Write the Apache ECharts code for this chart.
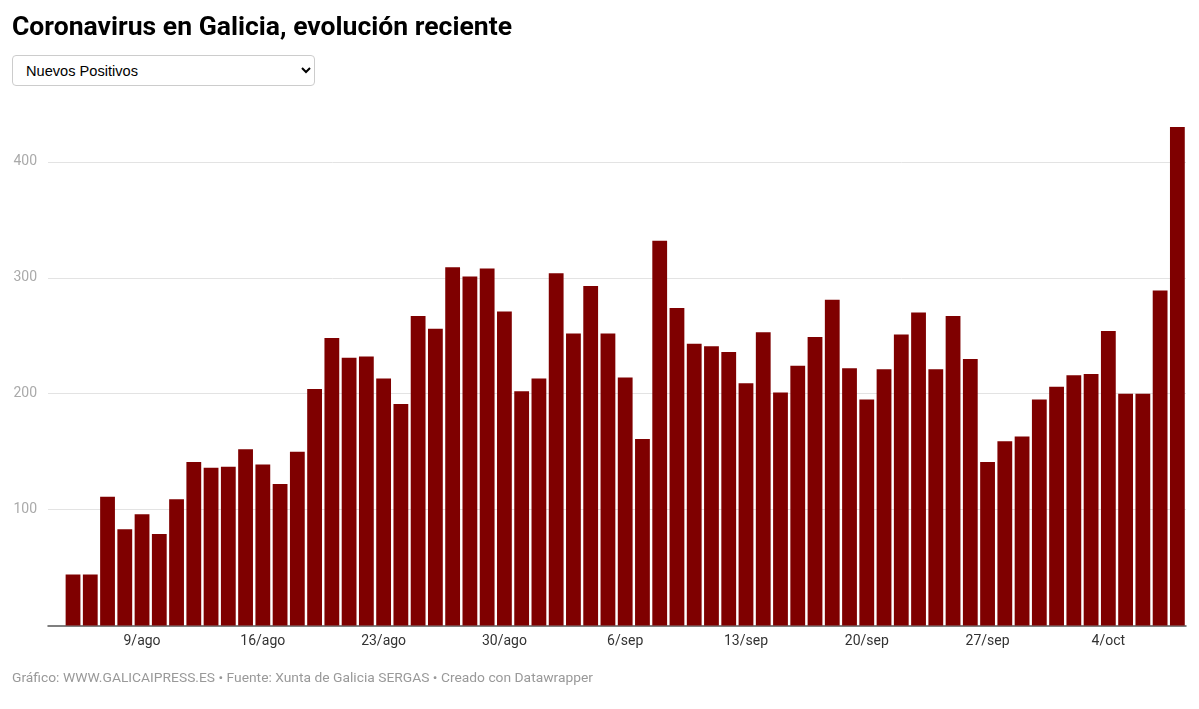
<!DOCTYPE html>
<html>
<head>
<meta charset="utf-8">
<script src="https://cdn.jsdelivr.net/npm/echarts@6/dist/echarts.min.js"></script>
<style>
  html, body { margin: 0; padding: 0; background: #fff; }
  body { width: 1199px; height: 709px; position: relative; overflow: hidden; font-family: Roboto, sans-serif; }
  #title { position: absolute; left: 12px; top: 14px; font: bold 25px/25px Roboto, sans-serif; color: #000; white-space: nowrap; transform-origin: left top; }
  #sel { position: absolute; left: 12px; top: 55px; width: 303px; height: 31px; font: 14.6px "Liberation Sans", Arial, sans-serif; color: #000; border: 1px solid #ccc; border-radius: 4px; background: #fff; padding: 0 9px; }
  #chart { position: absolute; left: 0; top: 0; width: 1199px; height: 709px; }
  #footer { position: absolute; left: 12px; top: 670px; font: 13px/16px Roboto, sans-serif; color: #999; white-space: nowrap; transform-origin: left top; }
</style>
</head>
<body>
<div id="chart"></div>
<div id="title">Coronavirus en Galicia, evolución reciente</div>
<select id="sel"><option>Nuevos Positivos</option></select>
<div id="footer">Gráfico: WWW.GALICAIPRESS.ES • Fuente: Xunta de Galicia SERGAS • Creado con Datawrapper</div>
<script>
const dates = [
  '5/ago','6/ago','7/ago','8/ago','9/ago','10/ago','11/ago','12/ago','13/ago','14/ago',
  '15/ago','16/ago','17/ago','18/ago','19/ago','20/ago','21/ago','22/ago','23/ago','24/ago',
  '25/ago','26/ago','27/ago','28/ago','29/ago','30/ago','31/ago','1/sep','2/sep','3/sep',
  '4/sep','5/sep','6/sep','7/sep','8/sep','9/sep','10/sep','11/sep','12/sep','13/sep',
  '14/sep','15/sep','16/sep','17/sep','18/sep','19/sep','20/sep','21/sep','22/sep','23/sep',
  '24/sep','25/sep','26/sep','27/sep','28/sep','29/sep','30/sep','1/oct','2/oct','3/oct',
  '4/oct','5/oct','6/oct','7/oct','8/oct'
];
const nuevosPositivos = [
  44, 44, 111, 83, 96, 79, 109, 141, 136, 137,
  152, 139, 122, 150, 204, 248, 231, 232, 213, 191,
  267, 256, 309, 301, 308, 271, 202, 213, 304, 252,
  293, 252, 214, 161, 332, 274, 243, 241, 236, 209,
  253, 201, 224, 249, 281, 222, 195, 221, 251, 270,
  221, 267, 230, 141, 159, 163, 195, 206, 216, 217,
  254, 200, 200, 289, 430
];
const tickLabels = ['9/ago','16/ago','23/ago','30/ago','6/sep','13/sep','20/sep','27/sep','4/oct'];
const yTicks = [0, 100, 200, 300, 400];

const tickIdx = tickLabels.map(l => dates.indexOf(l));
const chart = echarts.init(document.getElementById('chart'), null, { renderer: 'canvas' });
chart.setOption({
  animation: false,
  grid: { left: 48, right: 13, top: 115.5, bottom: 83.5, containLabel: false },
  xAxis: {
    type: 'value',
    min: -1.45,
    max: 64.5,
    splitLine: { show: false },
    axisTick: { show: false },
    axisLine: { show: true, onZero: false, lineStyle: { color: '#555', width: 1.5 } },
    axisLabel: {
      customValues: tickIdx,
      formatter: v => dates[Math.round(v)] || '',
      color: '#333', fontFamily: 'Roboto', fontSize: 14, margin: 9
    }
  },
  yAxis: {
    type: 'value',
    min: 0,
    max: 440,
    interval: 100,
    axisLine: { show: false },
    axisTick: { show: false },
    splitLine: { show: true, showMinLine: false, showMaxLine: false, lineStyle: { color: '#e3e3e3', width: 1 } },
    axisLabel: {
      showMinLabel: false, showMaxLabel: false,
      color: '#aaa', fontFamily: 'Roboto', fontSize: 14, margin: 11
    }
  },
  series: [{
    type: 'bar',
    barWidth: 14.8,
    itemStyle: { color: '#7f0000' },
    data: nuevosPositivos.map((v, i) => [i, v])
  }]
});

function fit(id, w) {
  const el = document.getElementById(id);
  const r = el.getBoundingClientRect().width;
  if (r > 0) el.style.transform = 'scaleX(' + (w / r) + ')';
}
fit('title', 500);
fit('footer', 581);
</script>
</body>
</html>
